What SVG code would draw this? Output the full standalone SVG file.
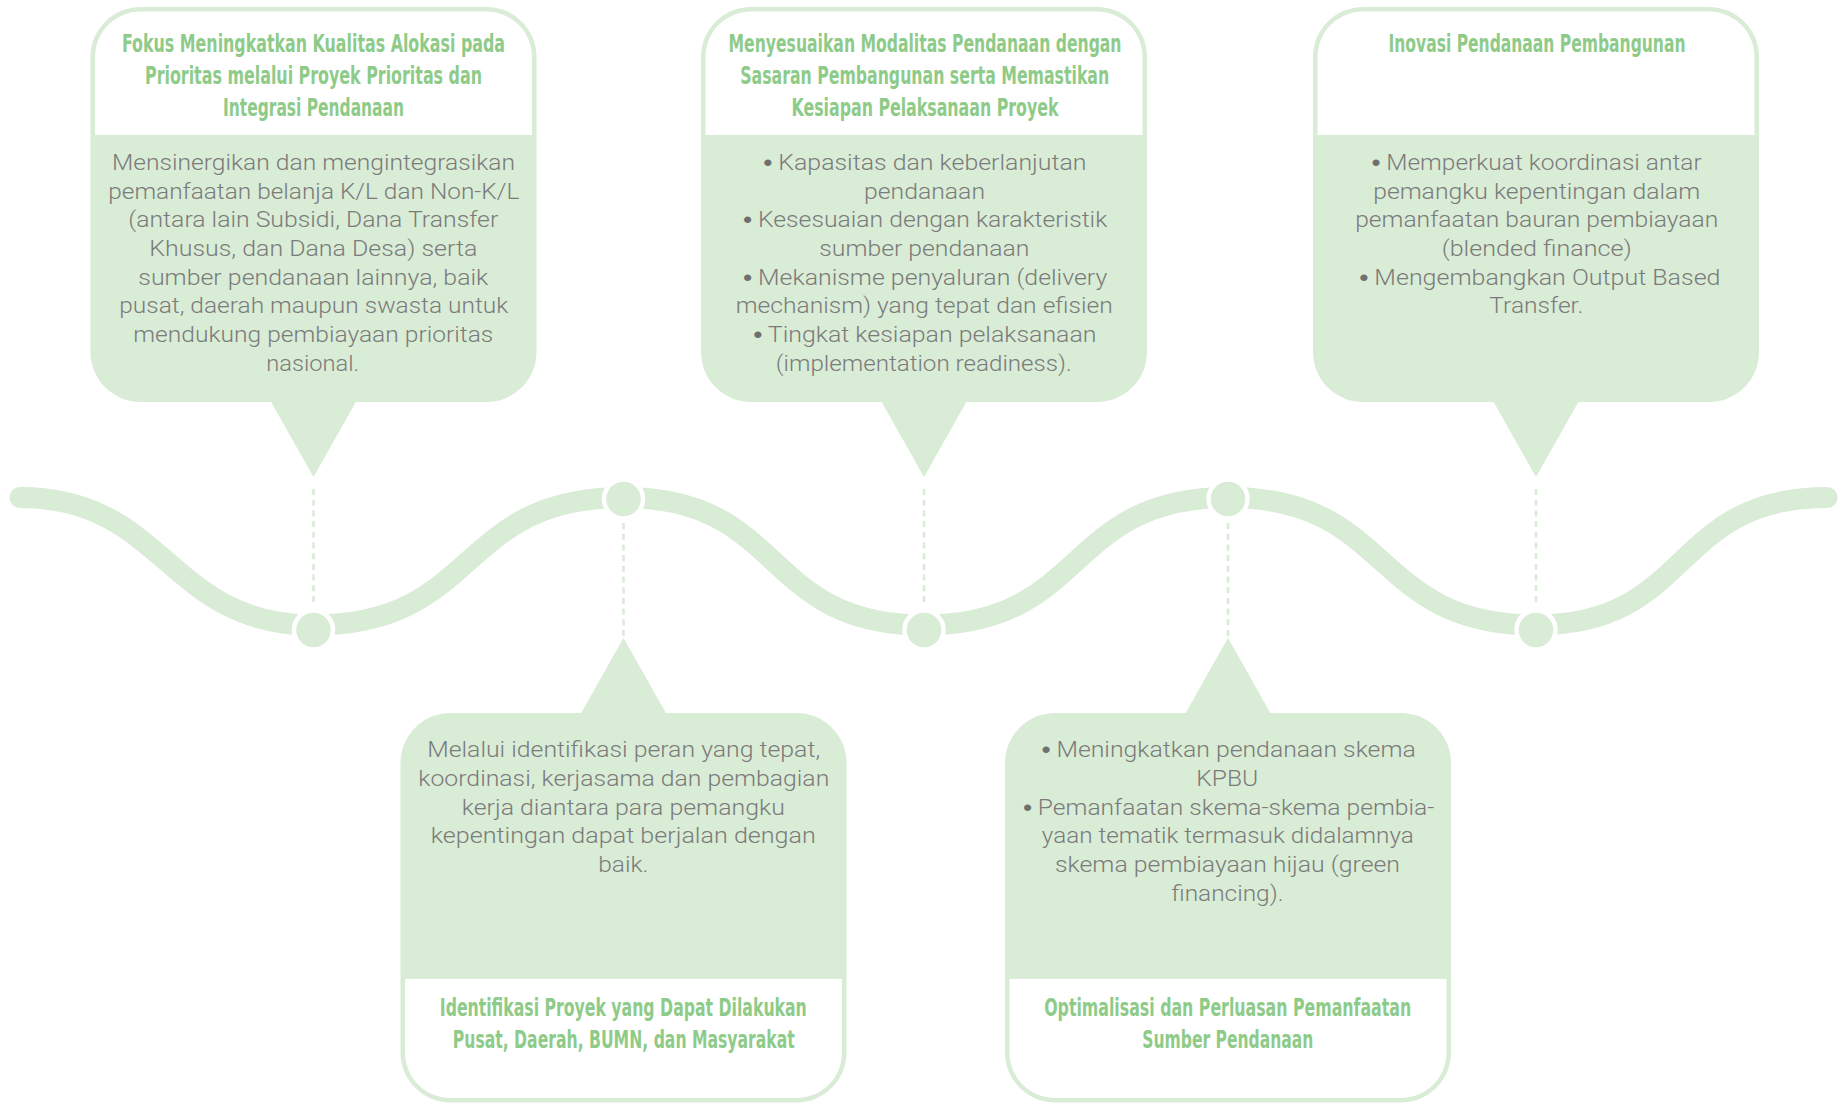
<svg xmlns="http://www.w3.org/2000/svg" width="1845" height="1104" viewBox="0 0 1845 1104">
<style>
.g{fill:#d9ecd6}
.w{fill:#ffffff}
.t{font-family:'Liberation Sans Narrow','DejaVu Sans Condensed',sans-serif;font-weight:bold;font-size:24px;fill:#8ecb88;text-anchor:middle}
.b{font-family:Roboto,'Liberation Sans',sans-serif;font-weight:300;font-size:22.5px;fill:#7b7b7b;text-anchor:middle}
.bl{font-family:'Liberation Sans',sans-serif;font-weight:bold;fill:#6f6f6f}
.wave{fill:none;stroke:#d9ecd6;stroke-width:21;stroke-linecap:round}
.dash{stroke:#d9ecd6;stroke-width:2.6;stroke-dasharray:6 4.7;fill:none}
.node{fill:#d9ecd6;stroke:#ffffff;stroke-width:4.5}
</style>
<rect width="1845" height="1104" fill="#ffffff"/>
<g id="connectors">
<path class="wave" d="M20,497.5 C166,497.5 167,625 313.5,625 C480,625 456,497.5 623.5,497.5 C786,497.5 761,625 924,625 C1088,625 1064,497.5 1228,497.5 C1394,497.5 1370,625 1536,625 C1693,625 1670,497.5 1827,497.5"/>
<line class="dash" x1="313.5" y1="489" x2="313.5" y2="606"/>
<line class="dash" x1="924" y1="489" x2="924" y2="606"/>
<line class="dash" x1="1536" y1="489" x2="1536" y2="606"/>
<line class="dash" x1="623.5" y1="523" x2="623.5" y2="640"/>
<line class="dash" x1="1228" y1="523" x2="1228" y2="640"/>
<circle class="node" cx="313.5" cy="630" r="19.5"/>
<circle class="node" cx="924" cy="630" r="19.5"/>
<circle class="node" cx="1536" cy="630" r="19.5"/>
<circle class="node" cx="623.5" cy="499" r="19.5"/>
<circle class="node" cx="1228" cy="499" r="19.5"/>
</g>
<g id="box1">
<rect class="g" x="90.5" y="7" width="446" height="395" rx="50"/>
<path class="w" d="M95,135 V57 A45.5,45.5 0 0 1 140.5,11.5 H486.5 A45.5,45.5 0 0 1 532,57 V135 Z"/>
<polygon class="g" points="270,400 357,400 313.5,477"/>
<text class="t" x="313.5" y="52" textLength="383" lengthAdjust="spacingAndGlyphs">Fokus Meningkatkan Kualitas Alokasi pada</text>
<text class="t" x="313.5" y="84" textLength="337" lengthAdjust="spacingAndGlyphs">Prioritas melalui Proyek Prioritas dan</text>
<text class="t" x="313.5" y="116" textLength="181" lengthAdjust="spacingAndGlyphs">Integrasi Pendanaan</text>
<text class="b" x="313.5" y="170" textLength="403" lengthAdjust="spacingAndGlyphs">Mensinergikan dan mengintegrasikan</text>
<text class="b" x="313.8" y="198.7" textLength="411" lengthAdjust="spacingAndGlyphs">pemanfaatan belanja K/L dan Non-K/L</text>
<text class="b" x="313.3" y="227.3" textLength="370" lengthAdjust="spacingAndGlyphs">(antara lain Subsidi, Dana Transfer</text>
<text class="b" x="313.3" y="256" textLength="328" lengthAdjust="spacingAndGlyphs">Khusus, dan Dana Desa) serta</text>
<text class="b" x="313.3" y="284.7" textLength="350" lengthAdjust="spacingAndGlyphs">sumber pendanaan lainnya, baik</text>
<text class="b" x="313.8" y="313.3" textLength="389" lengthAdjust="spacingAndGlyphs">pusat, daerah maupun swasta untuk</text>
<text class="b" x="313.3" y="342" textLength="360" lengthAdjust="spacingAndGlyphs">mendukung pembiayaan prioritas</text>
<text class="b" x="312.7" y="370.7" textLength="93" lengthAdjust="spacingAndGlyphs">nasional.</text>
</g>
<g id="box2">
<rect class="g" x="701" y="7" width="446" height="395" rx="50"/>
<path class="w" d="M705.5,135 V57 A45.5,45.5 0 0 1 751,11.5 H1097 A45.5,45.5 0 0 1 1142.5,57 V135 Z"/>
<polygon class="g" points="880.5,400 967.5,400 924,477"/>
<text class="t" x="925" y="52" textLength="393" lengthAdjust="spacingAndGlyphs">Menyesuaikan Modalitas Pendanaan dengan</text>
<text class="t" x="924.7" y="84" textLength="369" lengthAdjust="spacingAndGlyphs">Sasaran Pembangunan serta Memastikan</text>
<text class="t" x="925" y="116" textLength="267" lengthAdjust="spacingAndGlyphs">Kesiapan Pelaksanaan Proyek</text>
<text class="b" x="925" y="170" textLength="323" lengthAdjust="spacingAndGlyphs"><tspan class="bl">•</tspan> Kapasitas dan keberlanjutan</text>
<text class="b" x="924.5" y="198.7" textLength="121" lengthAdjust="spacingAndGlyphs">pendanaan</text>
<text class="b" x="925.3" y="227.3" textLength="364" lengthAdjust="spacingAndGlyphs"><tspan class="bl">•</tspan> Kesesuaian dengan karakteristik</text>
<text class="b" x="924.3" y="256" textLength="210" lengthAdjust="spacingAndGlyphs">sumber pendanaan</text>
<text class="b" x="925.3" y="284.7" textLength="364" lengthAdjust="spacingAndGlyphs"><tspan class="bl">•</tspan> Mekanisme penyaluran (delivery</text>
<text class="b" x="924.3" y="313.3" textLength="377" lengthAdjust="spacingAndGlyphs">mechanism) yang tepat dan efisien</text>
<text class="b" x="925" y="342" textLength="343" lengthAdjust="spacingAndGlyphs"><tspan class="bl">•</tspan> Tingkat kesiapan pelaksanaan</text>
<text class="b" x="923.8" y="370.7" textLength="296" lengthAdjust="spacingAndGlyphs">(implementation readiness).</text>
</g>
<g id="box3">
<rect class="g" x="1313" y="7" width="446" height="395" rx="50"/>
<path class="w" d="M1317.5,135 V57 A45.5,45.5 0 0 1 1363,11.5 H1709 A45.5,45.5 0 0 1 1754.5,57 V135 Z"/>
<polygon class="g" points="1492.5,400 1579.5,400 1536,477"/>
<text class="t" x="1537" y="52" textLength="297" lengthAdjust="spacingAndGlyphs">Inovasi Pendanaan Pembangunan</text>
<text class="b" x="1536.7" y="170" textLength="330" lengthAdjust="spacingAndGlyphs"><tspan class="bl">•</tspan> Memperkuat koordinasi antar</text>
<text class="b" x="1536.7" y="198.7" textLength="327" lengthAdjust="spacingAndGlyphs">pemangku kepentingan dalam</text>
<text class="b" x="1536.7" y="227.3" textLength="363" lengthAdjust="spacingAndGlyphs">pemanfaatan bauran pembiayaan</text>
<text class="b" x="1536.7" y="256" textLength="190" lengthAdjust="spacingAndGlyphs">(blended finance)</text>
<text class="b" x="1540" y="284.7" textLength="361" lengthAdjust="spacingAndGlyphs"><tspan class="bl">•</tspan> Mengembangkan Output Based</text>
<text class="b" x="1536.3" y="313.3" textLength="94" lengthAdjust="spacingAndGlyphs">Transfer.</text>
</g>
<g id="box4">
<rect class="g" x="400.5" y="713" width="446" height="389.5" rx="50"/>
<path class="w" d="M405,979 H842 V1052.5 A45.5,45.5 0 0 1 796.5,1098 H450.5 A45.5,45.5 0 0 1 405,1052.5 Z"/>
<polygon class="g" points="580,715 667,715 623.5,638"/>
<text class="b" x="623.7" y="757.3" textLength="393" lengthAdjust="spacingAndGlyphs">Melalui identifikasi peran yang tepat,</text>
<text class="b" x="623.8" y="786" textLength="411" lengthAdjust="spacingAndGlyphs">koordinasi, kerjasama dan pembagian</text>
<text class="b" x="623.3" y="814.7" textLength="323" lengthAdjust="spacingAndGlyphs">kerja diantara para pemangku</text>
<text class="b" x="623.3" y="843.3" textLength="385" lengthAdjust="spacingAndGlyphs">kepentingan dapat berjalan dengan</text>
<text class="b" x="623.3" y="872" textLength="50" lengthAdjust="spacingAndGlyphs">baik.</text>
<text class="t" x="623.3" y="1016" textLength="367" lengthAdjust="spacingAndGlyphs">Identifikasi Proyek yang Dapat Dilakukan</text>
<text class="t" x="623.8" y="1048" textLength="342" lengthAdjust="spacingAndGlyphs">Pusat, Daerah, BUMN, dan Masyarakat</text>
</g>
<g id="box5">
<rect class="g" x="1005" y="713" width="446" height="389.5" rx="50"/>
<path class="w" d="M1009.5,979 H1446.5 V1052.5 A45.5,45.5 0 0 1 1401,1098 H1055 A45.5,45.5 0 0 1 1009.5,1052.5 Z"/>
<polygon class="g" points="1184.5,715 1271.5,715 1228,638"/>
<text class="b" x="1228.7" y="757.3" textLength="374" lengthAdjust="spacingAndGlyphs"><tspan class="bl">•</tspan> Meningkatkan pendanaan skema</text>
<text class="b" x="1227.2" y="786" textLength="62" lengthAdjust="spacingAndGlyphs">KPBU</text>
<text class="b" x="1228.7" y="814.7" textLength="411" lengthAdjust="spacingAndGlyphs"><tspan class="bl">•</tspan> Pemanfaatan skema-skema pembia-</text>
<text class="b" x="1227.8" y="843.3" textLength="372" lengthAdjust="spacingAndGlyphs">yaan tematik termasuk didalamnya</text>
<text class="b" x="1227.5" y="872" textLength="345" lengthAdjust="spacingAndGlyphs">skema pembiayaan hijau (green</text>
<text class="b" x="1227.5" y="900.7" textLength="112" lengthAdjust="spacingAndGlyphs">financing).</text>
<text class="t" x="1227.7" y="1016" textLength="367" lengthAdjust="spacingAndGlyphs">Optimalisasi dan Perluasan Pemanfaatan</text>
<text class="t" x="1227.8" y="1048" textLength="171" lengthAdjust="spacingAndGlyphs">Sumber Pendanaan</text>
</g>
</svg>
